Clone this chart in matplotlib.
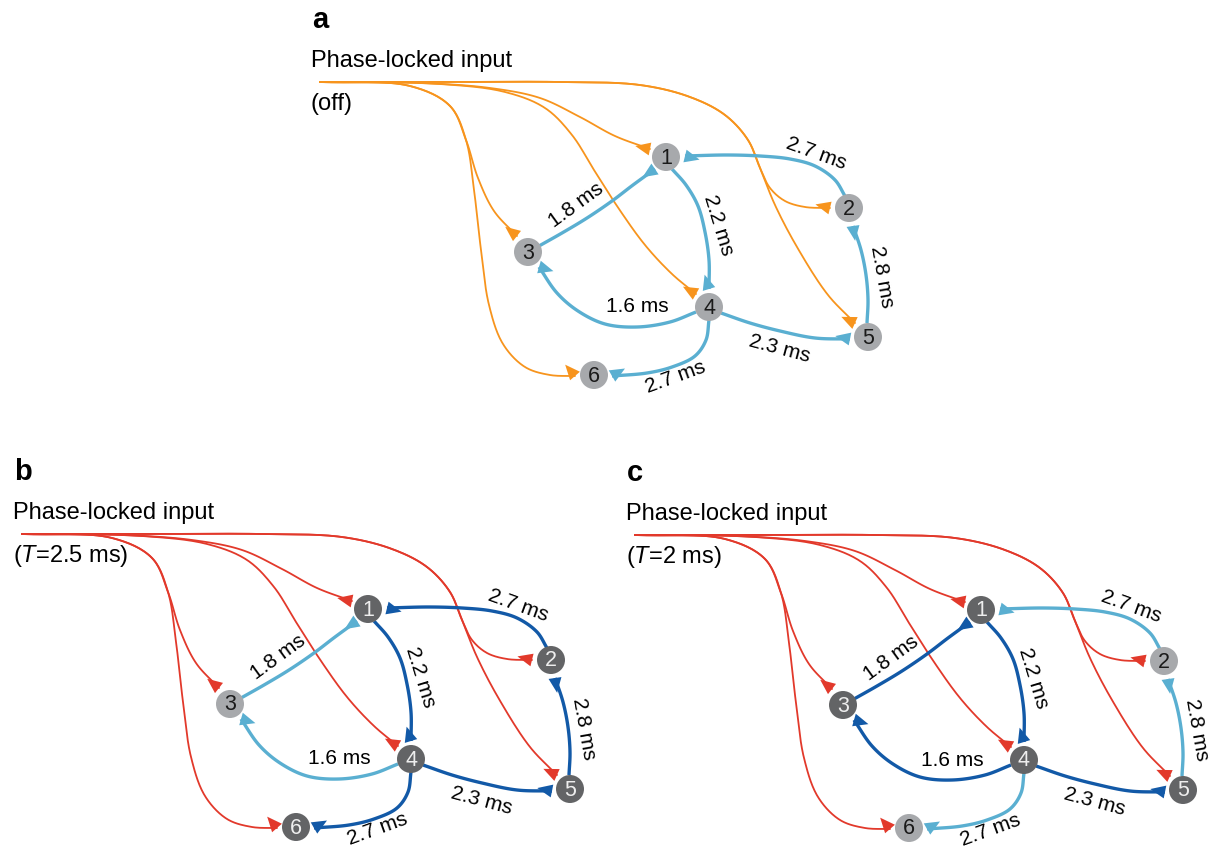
import numpy as np
import matplotlib.pyplot as plt
from matplotlib.patches import Circle, Polygon

plt.rcParams['font.family'] = ['Liberation Sans', 'DejaVu Sans']
plt.rcParams['mathtext.fontset'] = 'custom'
plt.rcParams['mathtext.rm'] = 'Liberation Sans'
plt.rcParams['mathtext.it'] = 'Liberation Sans:italic'

# ---- data ----
node_names = ['1', '2', '3', '4', '5', '6']
edge_src = ['2', '3', '1', '4', '4', '4', '5']
edge_dst = ['1', '1', '4', '3', '5', '6', '2']
edge_delay = ['2.7 ms', '1.8 ms', '2.2 ms', '1.6 ms', '2.3 ms', '2.7 ms', '2.8 ms']
panels = ['a', 'b', 'c']
input_title = 'Phase-locked input'
input_state = ['(off)', '($\\it{T}$=2.5 ms)', '($\\it{T}$=2 ms)']
dark_nodes = [[], ['1', '2', '4', '5', '6'], ['1', '3', '4', '5']]
dark_edges = [[], ['2-1', '1-4', '5-2', '4-5', '4-6'], ['3-1', '1-4', '4-3', '4-5']]

# ---- layout (pixel coords of panel a) ----
offsets = [(0, 0), (-298, 452), (315, 453)]
node_xy = {'1': (666, 157), '2': (849, 208), '3': (528, 252),
           '4': (709, 307), '5': (868, 337), '6': (594, 375)}
edge_path = {
    '2-1': [(845, 196), (835, 180), (815, 166), (790, 159), (760, 156), (727, 155), (685, 156)],
    '3-1': [(539, 246), (562, 233), (587, 218), (612, 201), (633, 185), (655, 169)],
    '1-4': [(672, 169), (686, 185), (698, 206), (705, 232), (709, 260), (709, 289)],
    '4-3': [(696, 312), (670, 322), (637, 327), (605, 324), (578, 311), (557, 293), (539, 267)],
    '4-5': [(721, 313), (750, 323), (780, 331), (815, 338), (850, 339)],
    '4-6': [(709, 320), (706, 340), (695, 356), (672, 367), (647, 373), (612, 376)],
    '5-2': [(867, 323), (868, 300), (866, 275), (861, 250), (853, 226)],
}
label_pos = {'2-1': (816, 154, -20), '3-1': (576, 205, 36), '1-4': (718, 225, -73),
             '4-3': (637, 307, 0), '4-5': (780, 349, -15), '4-6': (675, 377, 20),
             '5-2': (882, 277, -80)}
input_path = {
    '1': [(320, 82), (420, 83), (490, 88), (540, 98), (580, 117), (615, 136), (650, 149)],
    '2': [(320, 82), (450, 82), (560, 82), (640, 85), (690, 97), (725, 115), (748, 140),
          (760, 168), (770, 188), (785, 201), (805, 207), (830, 208)],
    '3': [(320, 82), (410, 86), (450, 106), (466, 140), (478, 178), (494, 211), (517, 236)],
    '4': [(320, 82), (440, 84), (505, 92), (545, 108), (572, 135), (594, 170), (617, 206),
          (645, 245), (672, 274), (696, 294)],
    '5': [(320, 82), (450, 82), (560, 82), (640, 85), (690, 97), (725, 115), (748, 140),
          (760, 168), (775, 205), (797, 247), (828, 295), (855, 323)],
    '6': [(320, 82), (410, 86), (450, 106), (466, 140), (474, 190), (481, 250),
          (489, 305), (503, 344), (525, 367), (550, 375), (575, 376)],
}

orange = '#f7941d'
red = '#e2392b'
light_blue = '#5aafd1'
dark_blue = '#1259a7'
light_node = '#a7a9ac'
dark_node = '#636466'


def smooth(pts, n=16):
    # centripetal catmull-rom through the way points
    p = np.array(pts, float)
    p = np.vstack([2 * p[0] - p[1], p, 2 * p[-1] - p[-2]])
    out = []
    for i in range(1, len(p) - 2):
        P0, P1, P2, P3 = p[i - 1], p[i], p[i + 1], p[i + 2]
        t0 = 0.0
        t1 = t0 + np.linalg.norm(P1 - P0) ** 0.5 + 1e-9
        t2 = t1 + np.linalg.norm(P2 - P1) ** 0.5 + 1e-9
        t3 = t2 + np.linalg.norm(P3 - P2) ** 0.5 + 1e-9
        t = np.linspace(t1, t2, n, endpoint=False)[:, None]
        A1 = (t1 - t) / (t1 - t0) * P0 + (t - t0) / (t1 - t0) * P1
        A2 = (t2 - t) / (t2 - t1) * P1 + (t - t1) / (t2 - t1) * P2
        A3 = (t3 - t) / (t3 - t2) * P2 + (t - t2) / (t3 - t2) * P3
        B1 = (t2 - t) / (t2 - t0) * A1 + (t - t0) / (t2 - t0) * A2
        B2 = (t3 - t) / (t3 - t1) * A2 + (t - t1) / (t3 - t1) * A3
        out.append((t2 - t) / (t2 - t1) * B1 + (t - t1) / (t2 - t1) * B2)
    out.append(p[-2][None])
    return np.vstack(out)


def end_marker(ax, curve, color, hw=6.5, L=15, z=3):
    B = curve[-1]
    d = np.hypot(*(curve - B).T)
    k = np.argmax(d >= 6) if np.any(d >= 6) else 0
    v = B - curve[k]
    v = v / np.linalg.norm(v)
    nrm = np.array([-v[1], v[0]])
    tri = [B + nrm * hw, B - nrm * hw, B - v * L]
    ax.add_patch(Polygon(tri, closed=True, fc=color, ec='none', zorder=z))


fig = plt.figure(figsize=(12.13, 8.49), dpi=100)
ax = fig.add_axes([0, 0, 1, 1])
ax.set_xlim(0, 1213)
ax.set_ylim(849, 0)
ax.axis('off')

for pi, letter in enumerate(panels):
    ox, oy = offsets[pi]
    in_color = orange if pi == 0 else red

    ax.text(312 + ox, 20 + oy, letter, fontsize=21, fontweight='bold', ha='left', va='center')
    ax.text(311 + ox, 61 + oy, input_title, fontsize=17, ha='left', va='center')
    ax.text(311 + ox, 104 + oy, input_state[pi], fontsize=17, ha='left', va='center')

    # input fibres
    for name in node_names:
        c = smooth([(x + ox, y + oy) for x, y in input_path[name]])
        ax.plot(c[:, 0], c[:, 1], color=in_color, lw=1.3, solid_capstyle='round', zorder=1)
        end_marker(ax, c, in_color, z=2)

    # network edges
    for s, t, lab in zip(edge_src, edge_dst, edge_delay):
        key = s + '-' + t
        col = dark_blue if key in dark_edges[pi] else light_blue
        c = smooth([(x + ox, y + oy) for x, y in edge_path[key]])
        ax.plot(c[:, 0], c[:, 1], color=col, lw=2.4, solid_capstyle='butt', zorder=3)
        end_marker(ax, c, col, hw=6.5, L=15, z=4)
        lx, ly, rot = label_pos[key]
        ax.text(lx + ox, ly + oy, lab, fontsize=15, rotation=rot, rotation_mode='anchor',
                ha='center', va='center', zorder=6)

    # nodes
    for name in node_names:
        x, y = node_xy[name]
        on = name in dark_nodes[pi]
        ax.add_patch(Circle((x + ox, y + oy), 14, fc=dark_node if on else light_node,
                            ec='none', zorder=5))
        ax.text(x + ox, y + oy + 1, name, fontsize=15.5, ha='center', va='center',
                color='#eeeeee' if on else '#1a1a1a', zorder=6)

fig.savefig('out.png', dpi=100)
